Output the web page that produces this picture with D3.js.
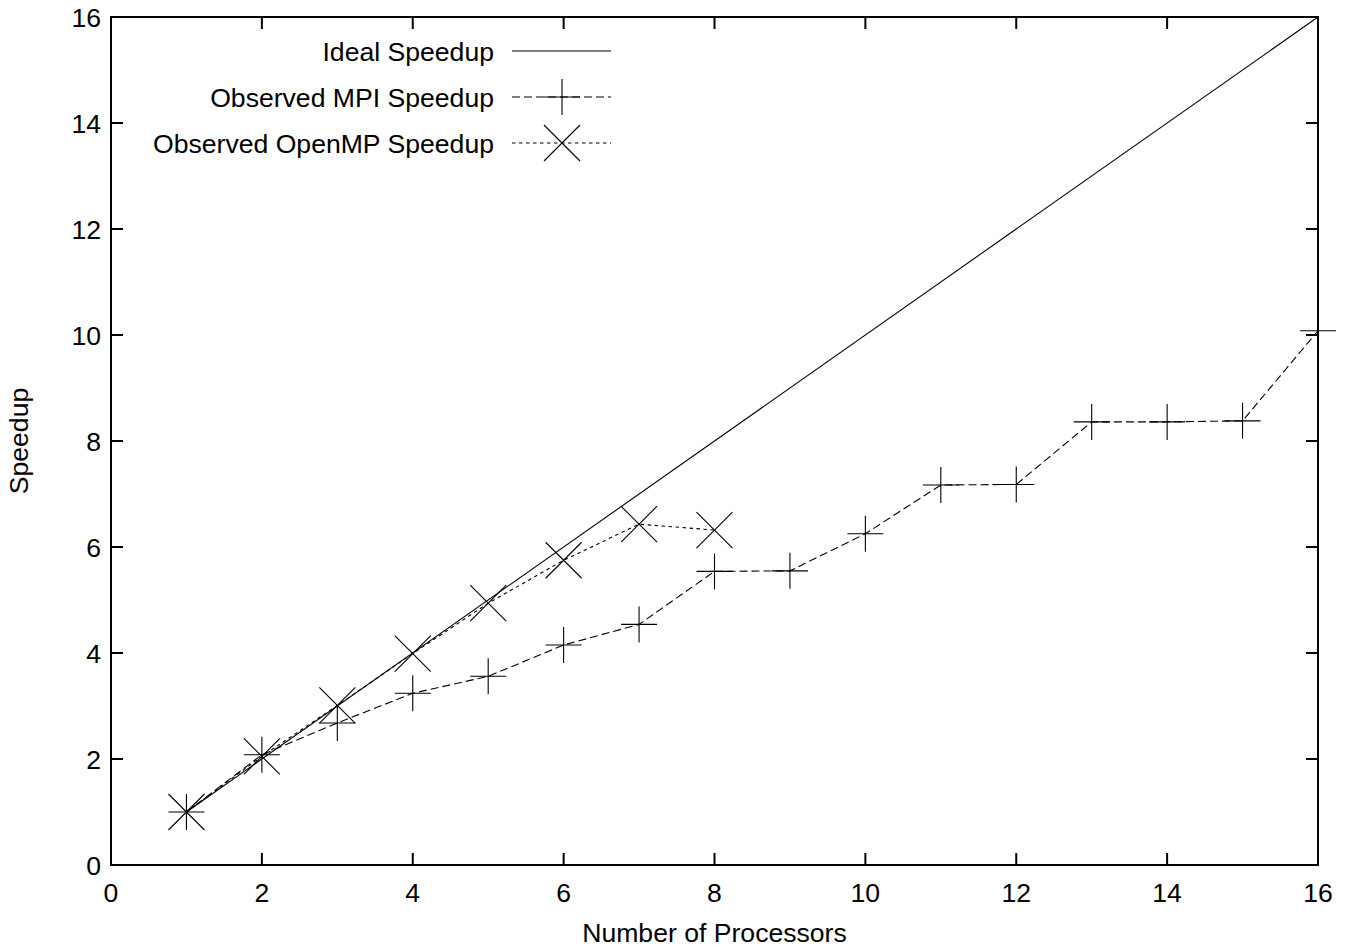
<!DOCTYPE html>
<html>
<head>
<meta charset="utf-8">
<script src="https://cdn.jsdelivr.net/npm/d3@7"></script>
<style>
    body { margin: 0; background: #fff; }
    text { font-family: "Liberation Sans", Arial, sans-serif; fill: #000; font-size: 26.6px; }
    .frame { fill: none; stroke: #000; stroke-width: 2; }
    .tick { stroke: #000; stroke-width: 2; }
    .series { fill: none; stroke: #000; stroke-width: 1.1; }
    .marker { stroke: #000; stroke-width: 1.1; fill: none; }
</style>
</head>
<body>
<div id="chart"></div>
<script>

// data
var idealProcs = [1, 16];
var idealSpeedup = [1, 16];

var mpiProcs = [1, 2, 3, 4, 5, 6, 7, 8, 9, 10, 11, 12, 13, 14, 15, 16];
var mpiSpeedup = [1.0, 2.08, 2.68, 3.24, 3.56, 4.15, 4.54, 5.54, 5.55, 6.25, 7.17, 7.18, 8.36, 8.36, 8.38, 10.08];

var ompProcs = [1, 2, 3, 4, 5, 6, 7, 8];
var ompSpeedup = [1.0, 2.05, 3.01, 3.99, 4.94, 5.75, 6.43, 6.32];

var xTicks = [0, 2, 4, 6, 8, 10, 12, 14, 16];
var yTicks = [0, 2, 4, 6, 8, 10, 12, 14, 16];

var legendLabels = ['Ideal Speedup', 'Observed MPI Speedup', 'Observed OpenMP Speedup'];

function zip(xs, ys) {
    return xs.map(function (x, i) { return {x: x, y: ys[i]}; });
}

function show_chart(div_id_chart) {

    // set the dimensions and margins of the diagram
    var W = 1348, H = 949;
    var margin = {top: 17, right: 30, bottom: 84, left: 111},
        width = W - margin.left - margin.right,
        height = H - margin.top - margin.bottom;

    var svg = d3.select('#' + div_id_chart).append('svg')
            .attr('width', W)
            .attr('height', H),
        g = svg.append('g')
            .attr('transform', 'translate(' + margin.left + ',' + margin.top + ')');

    var x = d3.scaleLinear().domain([0, 16]).range([0, width]);
    var y = d3.scaleLinear().domain([0, 16]).range([height, 0]);

    var tickLen = 12;

// ticks on all four sides, pointing inward (gnuplot style)
    xTicks.forEach(function (t) {
        g.append('line').attr('class', 'tick')
            .attr('x1', x(t)).attr('x2', x(t))
            .attr('y1', height).attr('y2', height - tickLen);
        g.append('line').attr('class', 'tick')
            .attr('x1', x(t)).attr('x2', x(t))
            .attr('y1', 0).attr('y2', tickLen);
        g.append('text')
            .attr('x', x(t)).attr('y', height + 37)
            .attr('text-anchor', 'middle')
            .text(t);
    });

    yTicks.forEach(function (t) {
        g.append('line').attr('class', 'tick')
            .attr('x1', 0).attr('x2', tickLen)
            .attr('y1', y(t)).attr('y2', y(t));
        g.append('line').attr('class', 'tick')
            .attr('x1', width).attr('x2', width - tickLen)
            .attr('y1', y(t)).attr('y2', y(t));
        g.append('text')
            .attr('x', -10).attr('y', y(t))
            .attr('dy', '0.36em')
            .attr('text-anchor', 'end')
            .text(t);
    });

    g.append('rect').attr('class', 'frame')
        .attr('x', 0).attr('y', 0)
        .attr('width', width).attr('height', height);

// axis titles
    g.append('text')
        .attr('x', width / 2).attr('y', height + 77)
        .attr('text-anchor', 'middle')
        .text('Number of Processors');

    g.append('text')
        .attr('transform', 'translate(' + (28 - margin.left) + ',' + (height / 2) + ') rotate(-90)')
        .attr('text-anchor', 'middle')
        .text('Speedup');

    var line = d3.line()
        .x(function (d) { return x(d.x); })
        .y(function (d) { return y(d.y); });

    var ms = 18;

    function plus(sel, cx, cy) {
        sel.append('path').attr('class', 'marker')
            .attr('d', 'M' + (cx - ms) + ',' + cy + 'H' + (cx + ms)
                + 'M' + cx + ',' + (cy - ms) + 'V' + (cy + ms));
    }

    function cross(sel, cx, cy) {
        sel.append('path').attr('class', 'marker')
            .attr('d', 'M' + (cx - ms) + ',' + (cy - ms) + 'L' + (cx + ms) + ',' + (cy + ms)
                + 'M' + (cx - ms) + ',' + (cy + ms) + 'L' + (cx + ms) + ',' + (cy - ms));
    }

    // ideal
    g.append('path').attr('class', 'series')
        .attr('d', line(zip(idealProcs, idealSpeedup)));

    // MPI
    var mpi = zip(mpiProcs, mpiSpeedup);
    g.append('path').attr('class', 'series')
        .style('stroke-dasharray', '8,4')
        .attr('d', line(mpi));
    mpi.forEach(function (d) { plus(g, x(d.x), y(d.y)); });

    // OpenMP
    var omp = zip(ompProcs, ompSpeedup);
    g.append('path').attr('class', 'series')
        .style('stroke-dasharray', '3.5,3.5')
        .attr('d', line(omp));
    omp.forEach(function (d) { cross(g, x(d.x), y(d.y)); });

// legend, top left inside the frame
    var legendRows = [51, 97, 143];
    var dashes = [null, '8,4', '3.5,3.5'];
    legendLabels.forEach(function (name, i) {
        var ly = legendRows[i] - margin.top;
        g.append('text')
            .attr('x', 494 - margin.left).attr('y', ly)
            .attr('dy', '0.36em')
            .attr('text-anchor', 'end')
            .text(name);
        g.append('line').attr('class', 'series')
            .attr('x1', 512 - margin.left).attr('x2', 611 - margin.left)
            .attr('y1', ly).attr('y2', ly)
            .style('stroke-dasharray', dashes[i]);
        if (i === 1) plus(g, 562 - margin.left, ly);
        if (i === 2) cross(g, 562 - margin.left, ly);
    });
}

show_chart('chart');

</script>
</body>
</html>
